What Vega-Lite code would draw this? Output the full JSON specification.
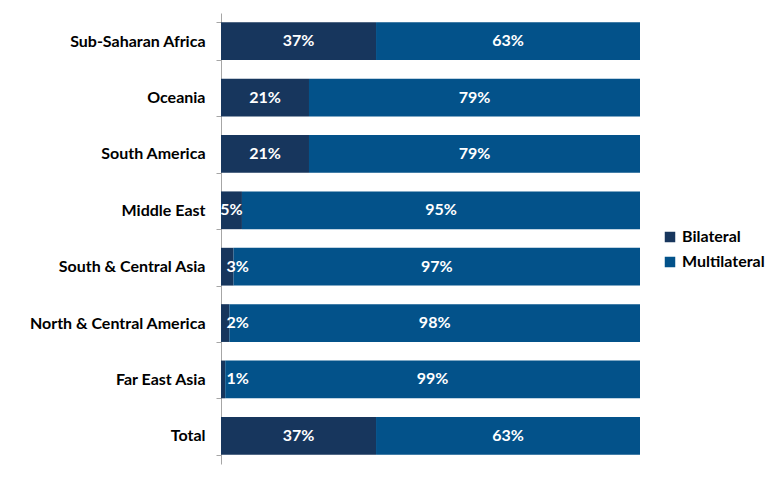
{
  "$schema": "https://vega.github.io/schema/vega-lite/v6.json",
  "autosize": {"type": "none"},
  "padding": {"left": 221, "top": 13, "right": 125, "bottom": 27},
  "width": 419,
  "height": 451,
  "background": "white",
  "config": {"view": {"stroke": null}, "font": "Lato"},
  "data": {
    "values": [
      {"region": "Sub-Saharan Africa", "type": "Bilateral", "value": 0.37},
      {"region": "Sub-Saharan Africa", "type": "Multilateral", "value": 0.63},
      {"region": "Oceania", "type": "Bilateral", "value": 0.21},
      {"region": "Oceania", "type": "Multilateral", "value": 0.79},
      {"region": "South America", "type": "Bilateral", "value": 0.21},
      {"region": "South America", "type": "Multilateral", "value": 0.79},
      {"region": "Middle East", "type": "Bilateral", "value": 0.05},
      {"region": "Middle East", "type": "Multilateral", "value": 0.95},
      {"region": "South & Central Asia", "type": "Bilateral", "value": 0.03},
      {"region": "South & Central Asia", "type": "Multilateral", "value": 0.97},
      {"region": "North & Central America", "type": "Bilateral", "value": 0.02},
      {"region": "North & Central America", "type": "Multilateral", "value": 0.98},
      {"region": "Far East Asia", "type": "Bilateral", "value": 0.01},
      {"region": "Far East Asia", "type": "Multilateral", "value": 0.99},
      {"region": "Total", "type": "Bilateral", "value": 0.37},
      {"region": "Total", "type": "Multilateral", "value": 0.63}
    ]
  },
  "transform": [
    {"stack": "value", "groupby": ["region"], "sort": [{"field": "type"}], "as": ["v0", "v1"]}
  ],
  "encoding": {
    "y": {
      "field": "region",
      "type": "nominal",
      "sort": null,
      "scale": {"paddingInner": 0.33, "paddingOuter": 0.165},
      "axis": {
        "title": null,
        "tickBand": "extent",
        "tickSize": 5,
        "tickColor": "#a6a6a6",
        "domainColor": "#a6a6a6",
        "labelFont": "Lato",
        "labelFontSize": 16,
        "labelFontWeight": "bold",
        "labelColor": "#000000",
        "labelPadding": 11
      }
    }
  },
  "layer": [
    {
      "mark": {"type": "bar"},
      "encoding": {
        "x": {"field": "v0", "type": "quantitative", "scale": {"domain": [0, 1]}, "axis": null},
        "x2": {"field": "v1"},
        "color": {
          "field": "type",
          "type": "nominal",
          "scale": {"domain": ["Bilateral", "Multilateral"], "range": ["#17365D", "#03528A"]},
          "legend": {
            "title": null,
            "orient": "none",
            "legendX": 441,
            "legendY": 216,
            "symbolType": "square",
            "symbolSize": 110,
            "symbolStrokeWidth": 0,
            "labelFont": "Lato",
            "labelFontSize": 16,
            "labelFontWeight": "bold",
            "labelColor": "#000000",
            "rowPadding": 9,
            "labelOffset": 4
          }
        }
      }
    },
    {
      "transform": [{"calculate": "datum.value < 0.05 ? 0.04 : (datum.v0 + datum.v1) / 2", "as": "labelpos"}],
      "mark": {"type": "text", "color": "white", "font": "Lato", "fontSize": 16, "fontWeight": "bold"},
      "encoding": {
        "x": {"field": "labelpos", "type": "quantitative"},
        "text": {"field": "value", "type": "quantitative", "format": ".0%"}
      }
    }
  ]
}
